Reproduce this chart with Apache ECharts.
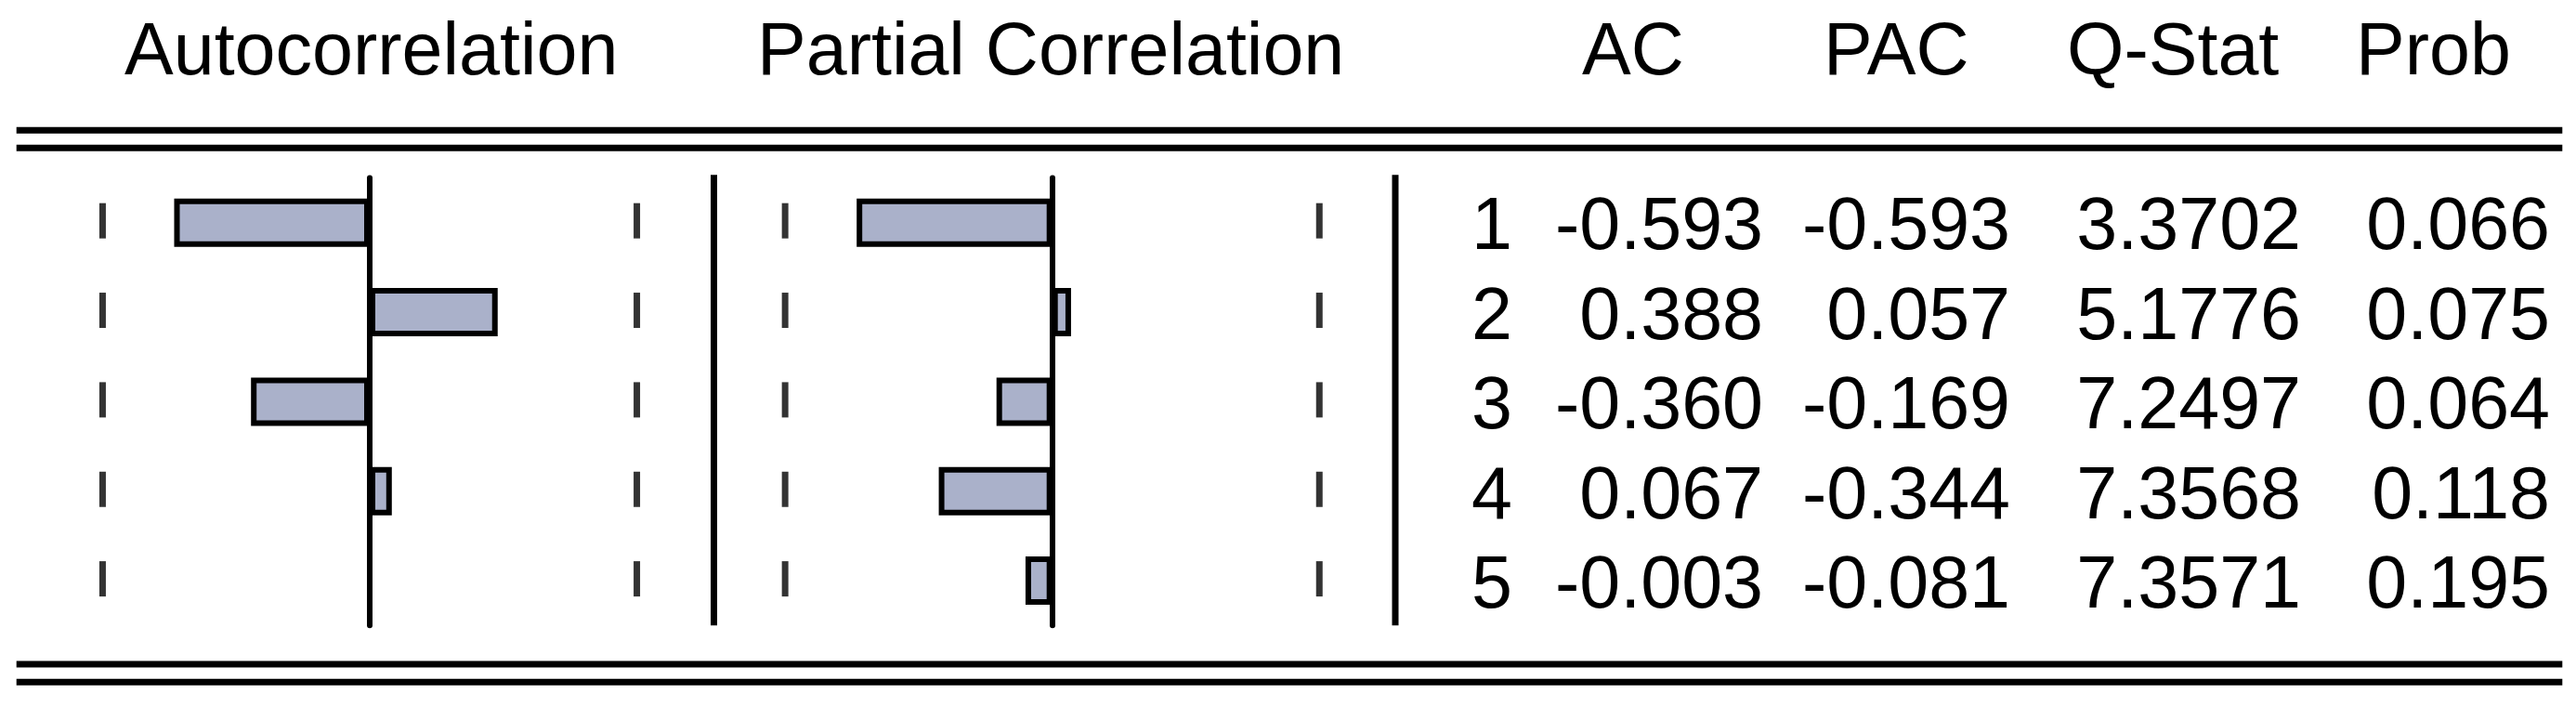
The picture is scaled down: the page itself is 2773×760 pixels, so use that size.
<!DOCTYPE html>
<html>
<head>
<meta charset="utf-8">
<script src="https://cdn.jsdelivr.net/npm/echarts@6/dist/echarts.min.js"></script>
<style>
  html, body { margin: 0; padding: 0; background: #ffffff; }
  #chart { width: 2773px; height: 760px; }
</style>
</head>
<body>
<div id="chart"></div>
<script>
// ---- data ----
const lags = [1, 2, 3, 4, 5];
const acValues = [-0.593, 0.388, -0.360, 0.067, -0.003];
const pacValues = [-0.593, 0.057, -0.169, -0.344, -0.081];
const qStatValues = [3.3702, 5.1776, 7.2497, 7.3568, 7.3571];
const probValues = [0.066, 0.075, 0.064, 0.118, 0.195];
const confBound = 0.81;
const panelTitles = ['Autocorrelation', 'Partial Correlation'];
const columnHeaders = ['AC', 'PAC', 'Q-Stat', 'Prob'];

// ---- styling / layout ----
const FONT = '"Liberation Sans", Arial, "DejaVu Sans", sans-serif';
const FS = 79;
const BAR_FILL = '#aab1ca';
const GRID_TOP = 191.5, GRID_H = 481.8, GRID_W = 710;
const AC_ZERO = 398, PAC_ZERO = 1132.7;
const TEXT_DY = 6;

const chart = echarts.init(document.getElementById('chart'), null, { renderer: 'canvas' });

function barData(vals) {
  return vals.map(v => {
    const px = Math.abs(v) * GRID_W / 2;
    if (px < 2) {
      return { value: v, itemStyle: { borderWidth: 0, opacity: 0 } };
    }
    return v;
  });
}

function boundData() {
  const d = [];
  lags.forEach((l, i) => { d.push([-confBound, i]); d.push([confBound, i]); });
  return d;
}

const axisCommonX = {
  type: 'value', min: -1, max: 1,
  axisLine: { show: false }, axisTick: { show: false },
  axisLabel: { show: false }, splitLine: { show: false }
};
const axisCommonY = {
  type: 'category', data: lags.map(String), inverse: true, z: 5,
  axisLine: { show: true, onZero: true, lineStyle: { color: '#000', width: 6 } },
  axisTick: { show: false }, axisLabel: { show: false }, splitLine: { show: false }
};

const barStyle = { color: BAR_FILL, borderColor: '#000', borderWidth: 6 };
const boundSeries = (idx) => ({
  type: 'scatter', xAxisIndex: idx, yAxisIndex: idx, silent: true,
  symbol: 'rect', symbolSize: [7, 38], symbolOffset: [0, -2],
  itemStyle: { color: '#000' }, data: boundData(), z: 4
});

chart.setOption({
  animation: false,
  backgroundColor: '#ffffff',
  grid: [
    { left: AC_ZERO - GRID_W / 2, top: GRID_TOP, width: GRID_W, height: GRID_H, containLabel: false, outerBoundsMode: 'none' },
    { left: PAC_ZERO - GRID_W / 2, top: GRID_TOP, width: GRID_W, height: GRID_H, containLabel: false, outerBoundsMode: 'none' }
  ],
  xAxis: [Object.assign({ gridIndex: 0 }, axisCommonX), Object.assign({ gridIndex: 1 }, axisCommonX)],
  yAxis: [Object.assign({ gridIndex: 0 }, axisCommonY), Object.assign({ gridIndex: 1 }, axisCommonY)],
  series: [
    { type: 'bar', name: 'AC', xAxisIndex: 0, yAxisIndex: 0, barWidth: 52, itemStyle: barStyle, data: barData(acValues), z: 2 },
    { type: 'bar', name: 'PAC', xAxisIndex: 1, yAxisIndex: 1, barWidth: 52, itemStyle: barStyle, data: barData(pacValues), z: 2 },
    boundSeries(0),
    boundSeries(1)
  ]
});

// ---- rules, separators and text table ----
const graphics = [];
function hline(y) {
  graphics.push({ type: 'line', shape: { x1: 17.7, y1: y, x2: 2758.3, y2: y }, style: { stroke: '#000', lineWidth: 7 }, silent: true });
}
[140.2, 159.2, 715, 734.3].forEach(hline);
[768.5, 1502].forEach(x => {
  graphics.push({ type: 'line', shape: { x1: x, y1: 188.3, x2: x, y2: 673.3 }, style: { stroke: '#000', lineWidth: 7 }, silent: true });
});

function txt(s, x, y, align) {
  graphics.push({
    type: 'text', x: x, y: y + TEXT_DY, silent: true,
    style: { text: s, fill: '#000', font: FS + 'px ' + FONT, fontSize: FS, fontFamily: FONT, align: align, verticalAlign: 'middle' }
  });
}
const headerY = 52.5;
txt(panelTitles[0], 134, headerY, 'left');
txt(panelTitles[1], 815, headerY, 'left');
const headerX = [1703, 1963, 2225, 2536];
columnHeaders.forEach((h, i) => txt(h, headerX[i], headerY, 'left'));

const colRight = [1628, 1898, 2164, 2477, 2745];
lags.forEach((l, i) => {
  const y = chart.convertToPixel({ yAxisIndex: 0 }, i) + 1;
  const cells = [String(l), acValues[i].toFixed(3), pacValues[i].toFixed(3), qStatValues[i].toFixed(4), probValues[i].toFixed(3)];
  cells.forEach((c, j) => txt(c, colRight[j], y, 'right'));
});

chart.setOption({ graphic: graphics });
</script>
</body>
</html>
